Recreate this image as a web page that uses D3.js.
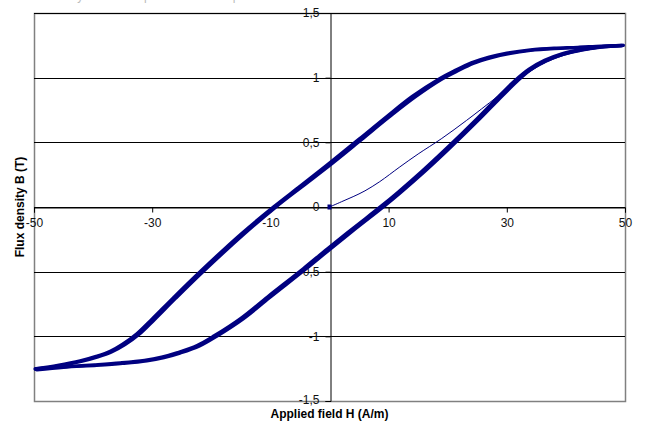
<!DOCTYPE html>
<html>
<head>
<meta charset="utf-8">
<script src="https://cdn.jsdelivr.net/npm/d3@7"></script>
<style>
    body { margin: 0; background: #fff; }
    svg text { font-family: "Liberation Sans", Arial, sans-serif; }
    .grid-line { stroke: #000; stroke-width: 1; shape-rendering: crispEdges; }
    .loop { fill: none; stroke: #000080; stroke-width: 3.2; stroke-linejoin: round; stroke-linecap: round; }
    .virgin { fill: none; stroke: #000080; stroke-width: 1; }
</style>
</head>
<body>
<div id="graphHolder"></div>
<script>
'use strict'

// descending branch (H from +50 to -50), two recorded cycles
var downH1 = [49.7, 46, 42, 38, 34, 30, 27, 24, 21, 18.7, 14, 9.7, 5, 0, -5, -9.5, -15, -21.9, -26.4, -30, -32.6, -35, -37.1, -39.5, -42.2, -46, -49.5];
var downB1 = [1.25, 1.245, 1.235, 1.228, 1.215, 1.19, 1.16, 1.115, 1.05, 0.995, 0.855, 0.70, 0.525, 0.34, 0.16, 0.0, -0.21, -0.50, -0.70, -0.865, -0.98, -1.06, -1.115, -1.155, -1.19, -1.225, -1.25];
var downH2 = [49.4, 46, 42, 38, 34, 30.4, 27.4, 24.3, 21.4, 19.1, 14.5, 10.1, 5.4, 0.4, -4.7, -9.2, -14.6, -21.5, -26, -29.6, -32.2, -34.6, -36.8, -39.2, -42, -46, -49.8];
var downB2 = [1.245, 1.24, 1.232, 1.224, 1.21, 1.186, 1.155, 1.11, 1.045, 0.99, 0.85, 0.695, 0.52, 0.335, 0.155, -0.005, -0.215, -0.505, -0.705, -0.87, -0.985, -1.065, -1.12, -1.16, -1.195, -1.23, -1.255];

// ascending branch (H from -50 to +50)
var upH1 = [-49.5, -45, -39.4, -35, -30.9, -28, -25.3, -22, -19.1, -14.6, -10.1, -4, 0, 4.5, 9.1, 12, 16, 20, 25.5, 28.5, 31.7, 34, 36.7, 39.5, 42.4, 46, 49.7];
var upB1 = [-1.26, -1.24, -1.225, -1.21, -1.19, -1.165, -1.13, -1.075, -1.0, -0.865, -0.70, -0.48, -0.33, -0.165, 0.0, 0.11, 0.27, 0.44, 0.685, 0.825, 0.97, 1.06, 1.13, 1.18, 1.21, 1.235, 1.25];
var upH2 = [-49.8, -45, -39.8, -35.4, -31.3, -28.4, -25.7, -22.4, -19.5, -15, -10.5, -4.4, -0.4, 4.1, 8.7, 11.6, 15.6, 19.6, 25.1, 28.1, 31.3, 33.7, 36.4, 39.3, 42.2, 46, 49.4];
var upB2 = [-1.25, -1.235, -1.22, -1.205, -1.185, -1.16, -1.125, -1.07, -0.995, -0.86, -0.695, -0.475, -0.325, -0.16, 0.005, 0.115, 0.275, 0.445, 0.69, 0.83, 0.975, 1.065, 1.135, 1.185, 1.215, 1.24, 1.25];

// initial magnetisation curve
var virginH = [0, 2, 4, 6, 8.5, 11.9, 15, 19, 23.2, 28.3, 32.7, 36.7, 41, 46, 49.7];
var virginB = [0, 0.04, 0.08, 0.125, 0.196, 0.31, 0.41, 0.53, 0.67, 0.85, 1.01, 1.12, 1.19, 1.23, 1.25];

var xTicks = [-50, -30, -10, 10, 30, 50];
var yTicks = [-1.5, -1, -0.5, 0, 0.5, 1, 1.5];

var titleText = "Measured hysteresis loop of the test sample";
var xTitle = "Applied field H (A/m)";
var yTitle = "Flux density B (T)";

function zip(hs, bs) {
    return hs.map(function (h, i) { return {h: h, b: bs[i]}; });
}

function hysteresisChart() {
    var _chart = {};
    var _width = 646, _height = 425;
    var _plot = {left: 34, right: 625, top: 13, bottom: 401};
    var _svg, _xScale, _yScale;
    var commaFmt = d3.formatLocale({decimal: ",", thousands: ".", grouping: [3], currency: ["", ""], minus: "-"}).format("~g");

    _chart.render = function () {
        _svg = d3.select("#graphHolder").append("svg")
                .attr("width", _width)
                .attr("height", _height);

        _xScale = d3.scaleLinear().domain([-50, 50]).range([_plot.left, _plot.right]);
        _yScale = d3.scaleLinear().domain([-1.5, 1.5]).range([_plot.bottom, _plot.top]);

        renderFrame();
        renderAxes();
        renderLines();
        renderTitles();
    };

    function renderFrame() {
        _svg.append("rect")
                .attr("x", _plot.left + 0.5)
                .attr("y", _plot.top + 0.5)
                .attr("width", _plot.right - _plot.left)
                .attr("height", _plot.bottom - _plot.top)
                .attr("fill", "#fff")
                .attr("stroke", "#808080")
                .attr("stroke-width", 1.5);

        _svg.append("g").selectAll("line")
                .data(yTicks.filter(function (d) { return d > -1.5; }))
                .enter()
                .append("line")
                .attr("class", "grid-line")
                .attr("x1", _plot.left)
                .attr("x2", _plot.right)
                .attr("y1", function (d) { return Math.round(_yScale(d)) + 0.5; })
                .attr("y2", function (d) { return Math.round(_yScale(d)) + 0.5; });
    }

    function renderAxes() {
        var xAxis = d3.axisBottom(_xScale)
                .tickValues(xTicks)
                .tickSize(5)
                .tickPadding(6)
                .tickFormat(commaFmt);
        var yAxis = d3.axisLeft(_yScale)
                .tickValues(yTicks)
                .tickSize(5)
                .tickPadding(6)
                .tickFormat(commaFmt);

        var gx = _svg.append("g")
                .attr("class", "x axis")
                .attr("transform", "translate(0," + (Math.round(_yScale(0)) + 0.5) + ")")
                .call(xAxis);
        var gy = _svg.append("g")
                .attr("class", "y axis")
                .attr("transform", "translate(" + (Math.round(_xScale(0)) + 0.5) + ",0)")
                .call(yAxis);

        [gx, gy].forEach(function (g) {
            g.select(".domain").attr("stroke", "#000");
            g.selectAll(".tick line").attr("stroke", "#000");
            g.selectAll(".tick text")
                    .attr("fill", "#111")
                    .style("font-size", "12px");
        });
        // bottom label sits a touch higher so it clears the axis title
        gy.selectAll(".tick text")
                .filter(function (d) { return d === -1.5; })
                .attr("dy", "0.2em");
    }

    function renderLines() {
        var line = d3.line()
                .x(function (d) { return _xScale(d.h); })
                .y(function (d) { return _yScale(d.b); })
                .curve(d3.curveCatmullRom.alpha(0.5));

        var loops = [zip(downH1, downB1), zip(upH1, upB1), zip(downH2, downB2), zip(upH2, upB2)];

        _svg.append("g").selectAll("path.loop")
                .data(loops)
                .enter()
                .append("path")
                .attr("class", "loop")
                .attr("d", line);

        _svg.append("path")
                .datum(zip(virginH, virginB))
                .attr("class", "virgin")
                .attr("d", line);

        _svg.append("rect")
                .attr("x", _xScale(0) - 2)
                .attr("y", _yScale(0) - 2.5)
                .attr("width", 4)
                .attr("height", 5)
                .attr("fill", "#000080");
    }

    function renderTitles() {
        // chart title is mostly clipped by the top edge, as in the original export
        _svg.append("text")
                .attr("x", 14)
                .attr("y", 0)
                .attr("fill", "#bbb")
                .style("font-size", "12px")
                .text(titleText);

        _svg.append("text")
                .attr("x", (_plot.left + _plot.right) / 2)
                .attr("y", 418)
                .attr("text-anchor", "middle")
                .style("font-size", "12px")
                .style("font-weight", "bold")
                .text(xTitle);

        _svg.append("text")
                .attr("transform", "translate(24," + ((_plot.top + _plot.bottom) / 2) + ") rotate(-90)")
                .attr("text-anchor", "middle")
                .style("font-size", "12px")
                .style("font-weight", "bold")
                .text(yTitle);
    }

    return _chart;
}

var chart = hysteresisChart();
chart.render();
</script>
</body>
</html>
